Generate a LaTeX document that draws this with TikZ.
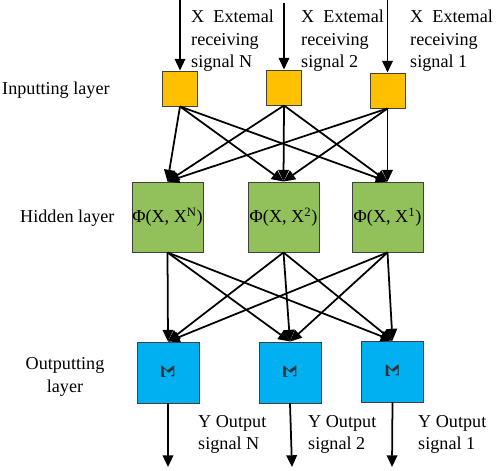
\documentclass[tikz,border=0pt]{standalone}
\usepackage{fontspec}
\setmainfont{Liberation Serif}
\usetikzlibrary{arrows.meta}
\definecolor{inyellow}{HTML}{FFC000}
\definecolor{hidgreen}{HTML}{92C05A}
\definecolor{outblue}{HTML}{00B0F0}
\tikzset{
  unit/.style={draw=black!75, line width=0.8pt, inner sep=0pt},
  inbox/.style={unit, fill=inyellow, minimum width=1.05cm, minimum height=1.05cm},
  hidbox/.style={unit, fill=hidgreen, minimum width=2.13cm, minimum height=2.1cm},
  outbox/.style={unit, fill=outblue, minimum width=1.86cm, minimum height=1.83cm,
    font=\fontsize{17}{17}\selectfont\bfseries, text=black!80},
  link/.style={line width=1.5pt, -{Triangle[length=10pt,width=9pt]}},
  lbl/.style={align=left, anchor=north west, inner sep=0pt},
}
\begin{document}
\begin{tikzpicture}[x=0.03cm, y=-0.03cm, font=\fontsize{15.5}{19}\selectfont]
\useasboundingbox (0,0) rectangle (498,471);

% Inputting layer
\node[inbox] (in1) at (180,88.5) {};
\node[inbox] (in2) at (284,87.5) {};
\node[inbox] (in3) at (387.5,90.5) {};
\coordinate (src1) at (180,0);
\coordinate (src2) at (284,3);
\coordinate (src3) at (387.5,0);
\draw[link] (src1) -- (in1.north);
\draw[link] (src2) -- (in2.north);
\draw[link] (src3) -- (in3.north);
\node[lbl] (txtin1) at (191,10) {X\ \ Extemal\\receiving\\signal N};
\node[lbl] (txtin2) at (301,10) {X\ \ Extemal\\receiving\\signal 2};
\node[lbl] (txtin3) at (410,10) {X\ \ Extemal\\receiving\\signal 1};

% Hidden layer
\node[hidbox] (hid1) at (167.5,217) {Φ(X, X\textsuperscript{N})};
\node[hidbox] (hid2) at (283.5,217) {Φ(X, X\textsuperscript{2})};
\node[hidbox] (hid3) at (387.5,217) {Φ(X, X\textsuperscript{1})};

% Outputting layer
\node[outbox] (out1) at (168,372.5) {\rotatebox{-90}{Σ}};
\node[outbox] (out2) at (290,372.5) {\rotatebox{-90}{Σ}};
\node[outbox] (out3) at (392.5,371.5) {\rotatebox{-90}{Σ}};
\coordinate (dst1) at (168,467);
\coordinate (dst2) at (292,467);
\coordinate (dst3) at (392,467);
\draw[link] (out1.south) -- (dst1);
\draw[link] (out2.south) -- (dst2);
\draw[link] (out3.south) -- (dst3);
\node[lbl] (txtout1) at (198,415) {Y Output\\signal N};
\node[lbl] (txtout2) at (308,415) {Y Output\\signal 2};
\node[lbl] (txtout3) at (418,415) {Y Output\\signal 1};

% full connections
\foreach \i in {1,2,3}{
  \foreach \j in {1,2,3}{
    \draw[link] (in\i.south) -- (hid\j.north);
    \draw[link] (hid\i.south) -- (out\j.north);
  }
}

% layer names
\node[anchor=west, inner sep=0pt] (namein) at (2,90) {Inputting layer};
\node[anchor=west, inner sep=0pt] (namehid) at (20,218) {Hidden layer};
\node[align=center, inner sep=0pt] (nameout) at (65,377) {Outputting\\layer};
\end{tikzpicture}
\end{document}
